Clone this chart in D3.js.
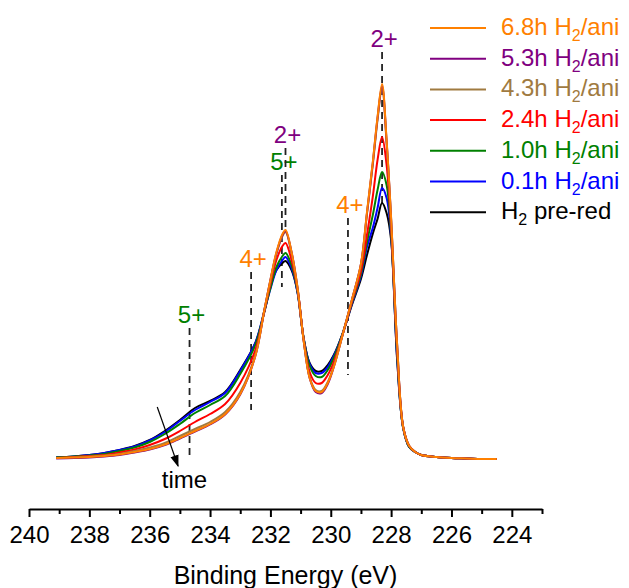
<!DOCTYPE html>
<html lang="en">
<head>
    <meta charset="UTF-8">
    <title>XPS Binding Energy</title>
    <script src="https://d3js.org/d3.v7.min.js"></script>
    <style>
        body { margin: 0; background: #fff; }
        text { font-family: "Liberation Sans", Arial, sans-serif; }
    </style>
</head>
<body>
    <div id="chart"></div>

    <script>
        // Binding energy grid (eV), high to low
        const energy = [239.1, 238.5, 238.0, 237.5, 237.0, 236.5, 236.0, 235.5, 235.0, 234.5,
            234.0, 233.5, 233.0, 232.5, 232.2, 232.0, 231.8, 231.6, 231.5, 231.3,
            231.1, 230.9, 230.7, 230.5, 230.3, 230.1, 229.9, 229.6, 229.3, 229.0,
            228.8, 228.6, 228.45, 228.3, 228.15, 228.0, 227.8, 227.6, 227.4, 227.2,
            227.0, 226.5, 226.0, 225.5, 225.0, 224.5];

        // Intensities (a.u.)
        const preRed = [1.5, 2.5, 4, 6, 9, 13, 19, 28, 39, 51,
            58, 67, 89, 116, 147, 173, 189, 196, 198, 189,
            167, 121, 96, 88, 88, 94, 104, 126, 154, 180,
            204, 226, 240, 256, 246, 219, 99, 31, 12, 7,
            4, 2, 1, 0.5, 0, 0];
        const ani01 = [1.5, 2.5, 4, 6, 9, 12.5, 18.5, 27, 38, 49,
            57, 66, 88, 116, 148, 170, 189, 199, 202, 191,
            166, 121, 95, 86, 86, 92, 103, 126, 155, 183,
            212, 232, 251, 271, 261, 222, 101, 31, 12, 7,
            4, 2, 1, 0.5, 0, 0];
        const ani10 = [1.5, 2.5, 3.5, 5, 8, 11.5, 17, 25, 35, 46,
            54, 63, 85, 114, 148, 171, 192, 203, 206, 194,
            167, 121, 93, 83, 82, 89, 101, 126, 156, 185,
            217, 245, 269, 287, 274, 225, 104, 31, 12, 7,
            4, 2, 1, 0.5, 0, 0];
        const ani24 = [1, 2, 3, 4, 6.5, 9.5, 14, 20, 28, 37,
            45, 55, 76, 109, 148, 175, 199, 213, 216, 199,
            169, 120, 87, 76, 76, 84, 97, 125, 157, 188,
            224, 264, 299, 322, 294, 231, 109, 32, 13, 7,
            4, 2, 1, 0.5, 0, 0];
        const ani43 = [1, 1.5, 2.5, 3.5, 5, 8, 11.5, 16, 23, 30,
            37, 47, 67, 104, 149, 178, 205, 223, 227, 206,
            170, 119, 82, 69, 68, 77, 93, 125, 159, 194,
            245, 296, 339, 371, 316, 239, 113, 32, 13, 7,
            4, 2, 1, 0.5, 0, 0];
        const ani53 = [0.5, 1, 1.5, 2.5, 4, 6.5, 9.5, 14, 20.5, 27.5,
            34.5, 44.5, 64.5, 103, 149, 179, 206, 224, 228, 207,
            171, 119, 81, 67, 66, 75, 92, 125, 159, 195,
            246, 298, 341, 373, 318, 240, 114, 32, 13, 7,
            4, 2, 1, 0.5, 0, 0];
        const ani68 = [1, 1.5, 2, 3, 4.5, 7, 10, 14.5, 21, 28,
            35, 45, 65, 103, 149, 179, 207, 225, 229, 207,
            171, 119, 81, 68, 67, 76, 92, 125, 159, 195,
            247, 299, 342, 375, 319, 241, 114, 32, 13, 7,
            4, 2, 1, 0.5, 0, 0];

        // drawing order: bottom to top
        const seriesValues = [preRed, ani01, ani10, ani24, ani43, ani53, ani68];
        const seriesColors = ["#000000", "#0000ff", "#008000", "#ff0000", "#a07a40", "#800080", "#ff8000"];

        // legend, top to bottom
        const legendMain = ["6.8h H", "5.3h H", "4.3h H", "2.4h H", "1.0h H", "0.1h H", "H"];
        const legendSub = ["2", "2", "2", "2", "2", "2", "2"];
        const legendTail = ["/ani", "/ani", "/ani", "/ani", "/ani", "/ani", " pre-red"];
        const legendColors = ["#ff8000", "#800080", "#a07a40", "#ff0000", "#008000", "#0000ff", "#000000"];

        // oxidation state markers
        const markEnergy = [234.68, 232.64, 231.62, 231.50, 229.43, 228.30];
        const markLabel = ["5+", "4+", "5+", "2+", "4+", "2+"];
        const markTop = [131, 187, 284, 311, 241, 407];
        const markBottom = [4, 49, 172, 229, 84, 254];
        const markColors = ["#008000", "#ff8000", "#008000", "#800080", "#ff8000", "#800080"];

        const majorTicks = [240, 238, 236, 234, 232, 230, 228, 226, 224];
        const minorTicks = [239, 237, 235, 233, 231, 229, 227, 225, 223];

        const svgWidth = 629;
        const svgHeight = 588;

        const svg = d3.select("#chart")
            .append("svg")
            .attr("width", svgWidth)
            .attr("height", svgHeight);

        const xScale = d3.scaleLinear().domain([240, 223]).range([29, 542]);
        const yScale = d3.scaleLinear().domain([0, 400]).range([459, 59]);
        const axisY = 509;

        // dashed markers
        markEnergy.forEach((e, i) => {
            svg.append("line")
                .attr("x1", xScale(e)).attr("x2", xScale(e))
                .attr("y1", yScale(markTop[i])).attr("y2", yScale(markBottom[i]))
                .attr("stroke", "#222")
                .attr("stroke-width", 1.8)
                .attr("stroke-dasharray", "7,5");
            svg.append("text")
                .attr("x", xScale(e) + 2)
                .attr("y", yScale(markTop[i]) - 5)
                .attr("text-anchor", "middle")
                .attr("fill", markColors[i])
                .style("font-size", "24px")
                .text(markLabel[i]);
        });

        // spectra
        const line = d3.line()
            .x((d, i) => xScale(energy[i]))
            .y(d => yScale(d))
            .curve(d3.curveCatmullRom.alpha(0.5));

        seriesValues.forEach((vals, i) => {
            svg.append("path")
                .datum(vals)
                .attr("fill", "none")
                .attr("stroke", seriesColors[i])
                .attr("stroke-width", 2)
                .attr("d", line);
        });

        // time arrow
        svg.append("defs").append("marker")
            .attr("id", "arrowhead")
            .attr("viewBox", "0 0 10 10")
            .attr("refX", 9).attr("refY", 5)
            .attr("markerWidth", 12).attr("markerHeight", 12)
            .attr("markerUnits", "userSpaceOnUse")
            .attr("orient", "auto")
            .append("path")
            .attr("d", "M0,1.5 L10,5 L0,8.5 Z")
            .attr("fill", "#000");

        svg.append("line")
            .attr("x1", xScale(235.75)).attr("y1", yScale(52))
            .attr("x2", xScale(235.06)).attr("y2", yScale(-7))
            .attr("stroke", "#000")
            .attr("stroke-width", 1.2)
            .attr("marker-end", "url(#arrowhead)");

        svg.append("text")
            .attr("x", xScale(234.85))
            .attr("y", 488)
            .attr("text-anchor", "middle")
            .style("font-size", "24px")
            .text("time");

        // x axis
        const xAxis = svg.append("g")
            .attr("transform", `translate(0,${axisY})`)
            .call(d3.axisBottom(xScale)
                .tickValues(majorTicks)
                .tickSize(8)
                .tickSizeOuter(0)
                .tickPadding(9)
                .tickFormat(d3.format("d")));

        xAxis.select(".domain").attr("stroke-width", 2);
        xAxis.selectAll(".tick line").attr("stroke-width", 2);
        xAxis.selectAll(".tick text")
            .style("font-size", "24px")
            .style("font-family", "'Liberation Sans', Arial, sans-serif")
            .attr("fill", "#000");

        svg.append("g")
            .attr("transform", `translate(0,${axisY})`)
            .selectAll("line")
            .data(minorTicks)
            .enter().append("line")
            .attr("x1", d => xScale(d) + 0.5).attr("x2", d => xScale(d) + 0.5)
            .attr("y1", 0).attr("y2", 5)
            .attr("stroke", "#000")
            .attr("stroke-width", 2);

        svg.append("text")
            .attr("x", (xScale(240) + xScale(223)) / 2)
            .attr("y", 584)
            .attr("text-anchor", "middle")
            .style("font-size", "25px")
            .text("Binding Energy (eV)");

        // legend
        const legend = svg.append("g");
        legendMain.forEach((t, i) => {
            const ly = 28 + i * 30.7;
            legend.append("line")
                .attr("x1", 430).attr("x2", 486)
                .attr("y1", ly).attr("y2", ly)
                .attr("stroke", legendColors[i])
                .attr("stroke-width", 2);
            const txt = legend.append("text")
                .attr("x", 501)
                .attr("y", ly + 7)
                .attr("fill", legendColors[i])
                .style("font-size", "24px");
            txt.append("tspan").text(t);
            txt.append("tspan")
                .attr("dy", 6)
                .style("font-size", "16px")
                .text(legendSub[i]);
            txt.append("tspan")
                .attr("dy", -6)
                .text(legendTail[i]);
        });
    </script>
</body>
</html>
